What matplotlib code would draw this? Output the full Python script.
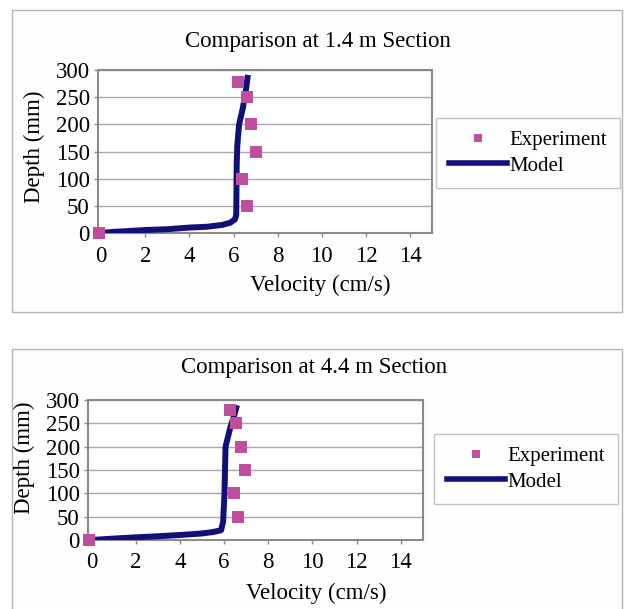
import matplotlib.pyplot as plt
from matplotlib.patches import Rectangle
from matplotlib.lines import Line2D

# experiment points (velocity cm/s, depth mm)
exp_v_1 = [-0.1, 6.6, 6.4, 7.0, 6.8, 6.6, 6.2]
exp_d_1 = [0, 50, 100, 150, 200, 250, 278]
exp_v_2 = [-0.1, 6.65, 6.45, 6.95, 6.75, 6.55, 6.25]
exp_d_2 = [0, 50, 100, 150, 200, 250, 278]

# model profiles
mod_v_1 = [0, 0.5, 1, 2, 3, 4, 4.8, 5.5, 5.85, 6.06, 6.12, 6.14, 6.17, 6.25, 6.42, 6.55, 6.65]
mod_d_1 = [0, 2, 3, 5.5, 7, 10, 11.5, 15, 19, 25, 33, 125, 162, 200, 230, 260, 291]
mod_v_2 = [0, 0.5, 1, 2, 3, 4, 5, 5.5, 5.87, 5.96, 6.02, 6.07, 6.28, 6.45, 6.59]
mod_d_2 = [0, 1.5, 3, 5.7, 8, 10.7, 14, 17, 21, 39, 96, 200, 240, 265, 289]

titles = ['Comparison at 1.4 m Section', 'Comparison at 4.4 m Section']
xticks = [0, 2, 4, 6, 8, 10, 12, 14]
yticks = [0, 50, 100, 150, 200, 250, 300]

W, H = 626, 609
plt.rcParams['font.family'] = ['Liberation Serif', 'DejaVu Serif']
fig = plt.figure(figsize=(W / 100, H / 100), dpi=100)
fig.patch.set_facecolor('white')

line_col = '#10107a'
mark_col = '#c04e9c'


def px_rect(x0, y0, x1, y1):
    return [x0 / W, 1 - y1 / H, (x1 - x0) / W, (y1 - y0) / H]


# outer chart boxes
for (x0, y0, x1, y1) in [(12, 10, 622, 312), (12, 349, 622, 612)]:
    fig.patches.append(Rectangle((x0 / W, 1 - y1 / H), (x1 - x0) / W, (y1 - y0) / H,
                                 transform=fig.transFigure, facecolor='#fdfdfd',
                                 edgecolor='#b4b4b4', linewidth=1.0, zorder=-5))

panels = [
    dict(rect=px_rect(98, 70, 432, 233), ev=exp_v_1, ed=exp_d_1, mv=mod_v_1, md=mod_d_1,
         title=titles[0], tpos=(318, 42), ylab=(-0.189, 0.528), xlab=(0.665, -0.319),
         leg=(528, 153)),
    dict(rect=px_rect(88, 400, 423, 540), ev=exp_v_2, ed=exp_d_2, mv=mod_v_2, md=mod_d_2,
         title=titles[1], tpos=(314, 368), ylab=(-0.191, 0.586), xlab=(0.681, -0.379),
         leg=(526, 469)),
]

for p in panels:
    ax = fig.add_axes(p['rect'], zorder=2)
    ax.set_facecolor('white')
    ax.plot(p['mv'], p['md'], color=line_col, linewidth=4.3, solid_capstyle='butt',
            solid_joinstyle='round', zorder=3)
    ax.plot(p['ev'], p['ed'], linestyle='none', marker='s', markersize=9,
            color=mark_col, markeredgewidth=0, zorder=4, clip_on=False)
    ax.set_xlim(-0.15, 15)
    ax.set_ylim(0, 300)
    ax.set_xticks(xticks)
    ax.set_yticks(yticks)
    ax.grid(axis='y', color='#a8a8a8', linewidth=1.0)
    ax.set_axisbelow(True)
    for s in ax.spines.values():
        s.set_color('#8a8a8a')
        s.set_linewidth(1.5)
    ax.tick_params(axis='both', labelsize=16.5, color='#8a8a8a', length=3, width=1)
    ax.tick_params(axis='x', pad=6)
    ax.tick_params(axis='y', pad=3)
    ax.set_xlabel('Velocity (cm/s)', fontsize=16.5, va='center', ha='center')
    ax.xaxis.set_label_coords(*p['xlab'])
    ax.set_ylabel('Depth (mm)', fontsize=16.5, va='center', ha='center')
    ax.yaxis.set_label_coords(*p['ylab'])
    fig.text(p['tpos'][0] / W, 1 - p['tpos'][1] / H, p['title'], fontsize=16.5,
             ha='center', va='center')
    handles = [Line2D([], [], linestyle='none', marker='s', markersize=5.5,
                      color=mark_col, markeredgewidth=0),
               Line2D([], [], color=line_col, linewidth=4.0)]
    leg = fig.legend(handles, ['Experiment', 'Model'], loc='center',
                     bbox_to_anchor=(p['leg'][0] / W, 1 - p['leg'][1] / H),
                     fontsize=15, frameon=True, fancybox=False, handlelength=2.8,
                     handletextpad=0.1, labelspacing=0.3, borderpad=0.6,
                     borderaxespad=0)
    leg.get_frame().set_edgecolor('#b4b4b4')
    leg.get_frame().set_linewidth(1.0)

fig.savefig('out.png', dpi=100)
